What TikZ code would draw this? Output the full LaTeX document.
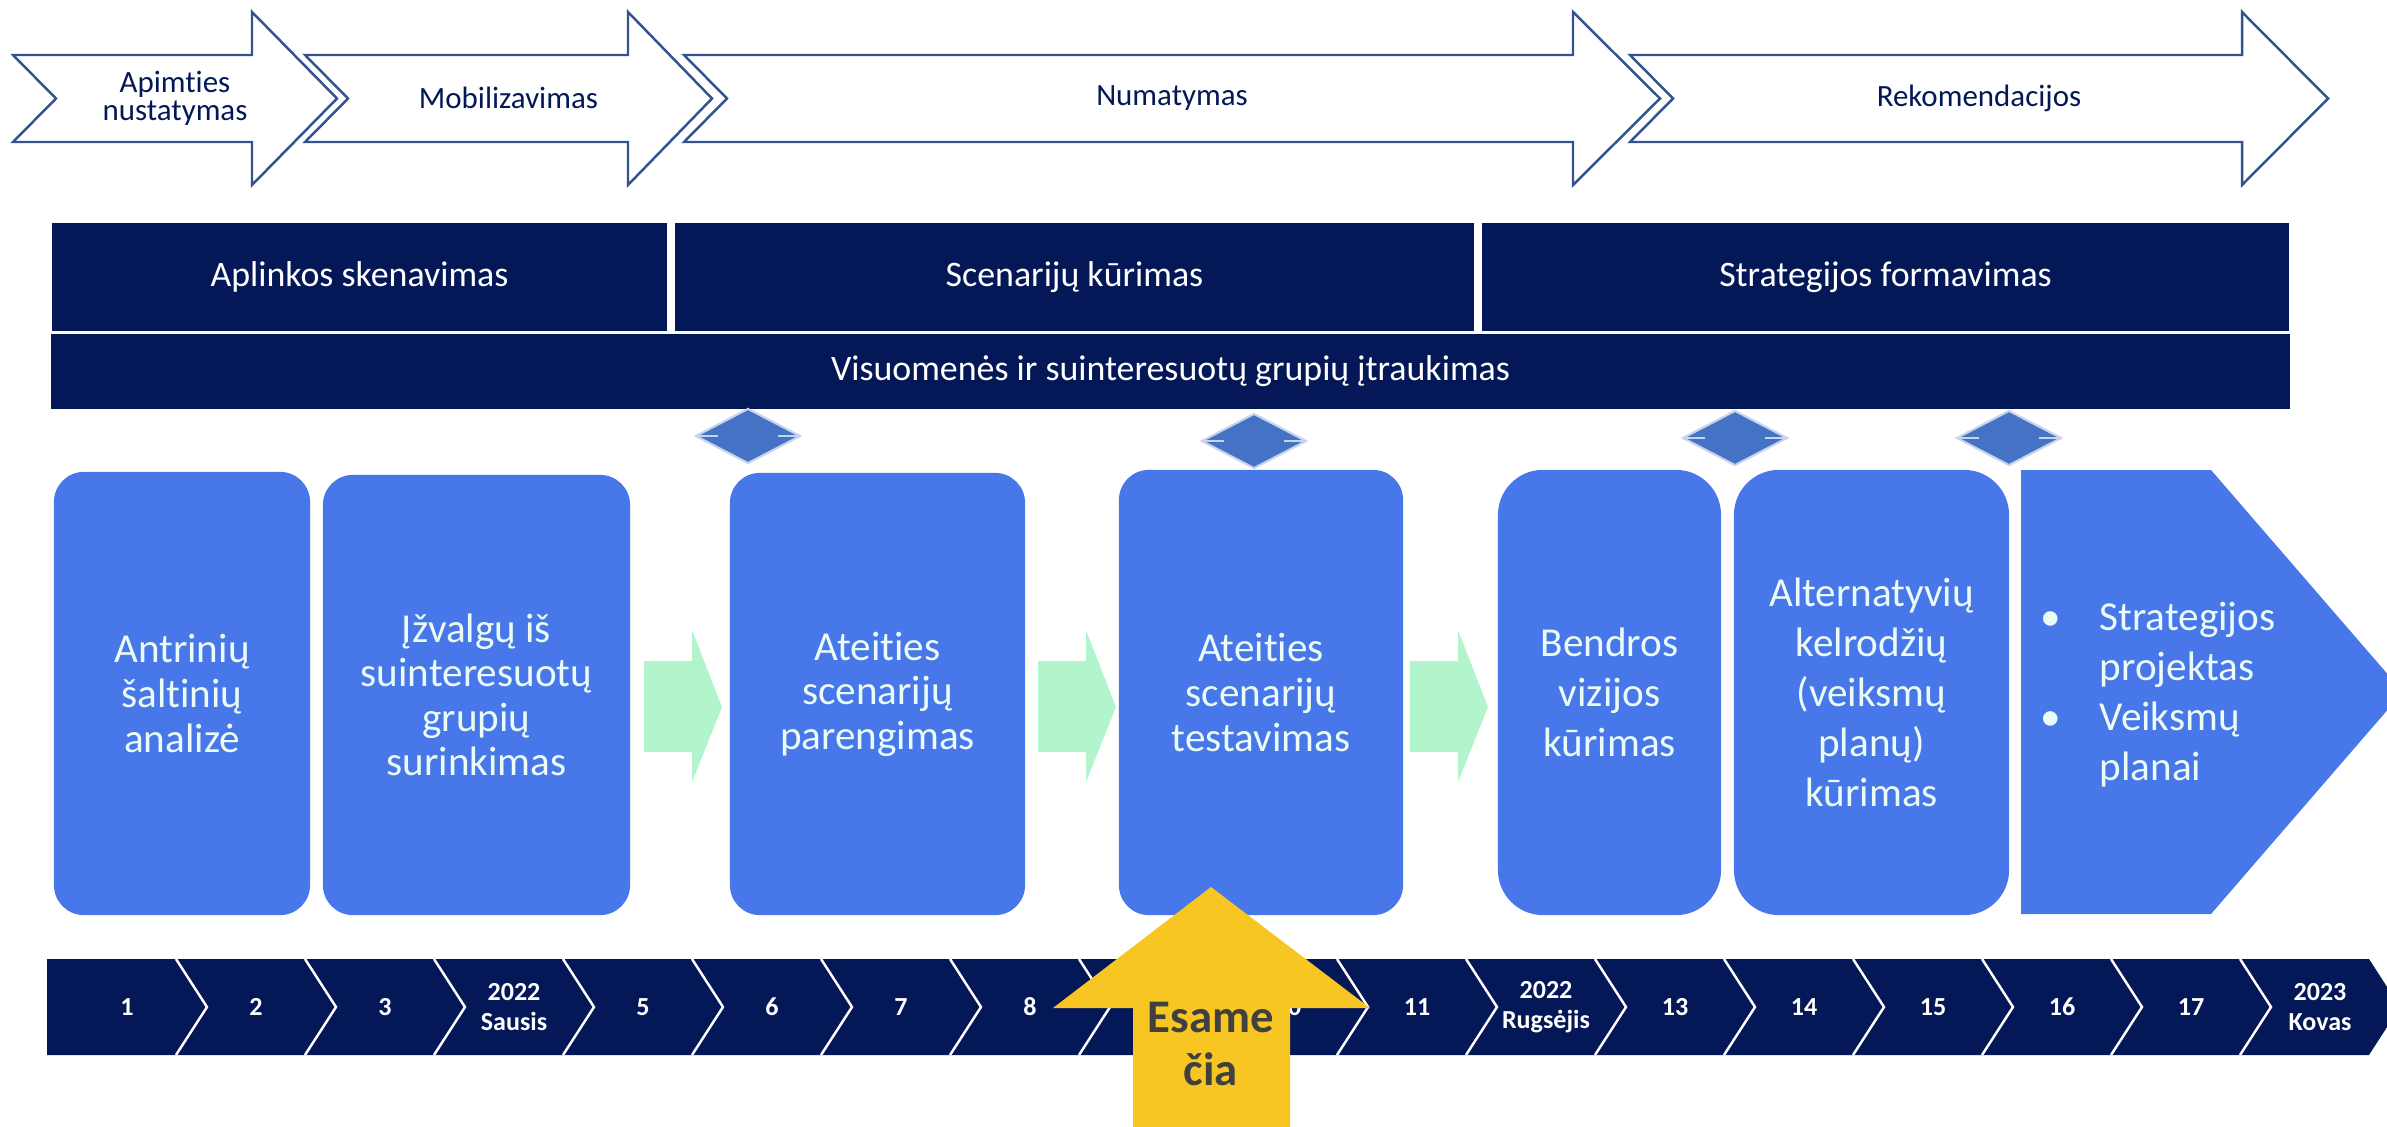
\documentclass[tikz,border=0pt]{standalone}
\usepackage{fontspec}
\setmainfont{Carlito}[RawFeature=-liga, RawFeature=-clig, RawFeature=-calt, RawFeature=-dlig]
\usetikzlibrary{shapes.geometric}

\definecolor{navy}{RGB}{4,24,88}
\definecolor{boxblue}{RGB}{72,119,234}
\definecolor{mint}{RGB}{178,245,205}
\definecolor{phaseline}{RGB}{50,82,145}
\definecolor{gemfill}{RGB}{68,114,196}
\definecolor{gemedge}{RGB}{200,212,238}
\definecolor{sun}{RGB}{248,198,35}
\definecolor{boxtext}{RGB}{235,252,246}
\definecolor{darktext}{RGB}{64,64,64}

\tikzset{
  phase/.style={draw=phaseline, line width=0.7pt, fill=white, line join=miter},
  phaselabel/.style={text=navy, align=center, inner sep=0pt, font=\fontsize{8.8}{8}\selectfont},
  band/.style={fill=navy, text=white, inner sep=0pt, font=\fontsize{10.2}{12}\selectfont},
  stepbox/.style={fill=boxblue, rounded corners=0.3cm, text=boxtext, align=center, inner sep=0pt, font=\fontsize{11.7}{12.66}\selectfont},
  widebox/.style={stepbox, rounded corners=0.45cm, font=\fontsize{11.7}{14.2}\selectfont},
  gem/.style={diamond, fill=gemfill, draw=gemedge, line width=0.6pt, minimum width=1.05cm, minimum height=0.55cm, inner sep=0pt},
  tick/.style={text=white, align=center, inner sep=0pt, font=\bfseries\fontsize{7.4}{8.5}\selectfont},
}

% top phase arrow: left x, head base x, tip x, name, label
\newcommand{\phasearrow}[5]{
  \draw[phase] (#1,55) -- (#2,55) -- (#2,12) -- (#3,98.5) -- (#2,185) -- (#2,142) -- (#1,142) -- ({#1+43},98.5) -- cycle;
  \node[phaselabel] (#4) at ({(#1+#3)/2},98) {#5};
}
% light green flow arrow from x
\newcommand{\flow}[1]{
  \fill[mint] (#1,661) -- ++(48,0) -- ++(0,-31) -- ++(30,77) -- ++(-30,75) -- ++(0,-30) -- ++(-48,0) -- cycle;
}

\begin{document}
\begin{tikzpicture}[x=0.01cm, y=-0.01cm]
  \useasboundingbox (0,0) rectangle (2387,1127);
  \clip (0,0) rectangle (2387,1127);

  % phases
  \phasearrow{13}{252}{337}{p1}{Apimties\\nustatymas}
  \phasearrow{305}{628}{712}{p2}{Mobilizavimas}
  \phasearrow{684}{1573}{1660}{p3}{Numatymas}
  \phasearrow{1630}{2242}{2328}{p4}{Rekomendacijos}

  % stages
  \node[band, minimum width=6.15cm, minimum height=1.08cm] (scan) at (359.5,277) {Aplinkos skenavimas};
  \node[band, minimum width=7.99cm, minimum height=1.08cm] (scen) at (1074.5,277) {Scenarijų kūrimas};
  \node[band, minimum width=8.07cm, minimum height=1.08cm] (strat) at (1885.5,277) {Strategijos formavimas};
  \node[band, minimum width=22.37cm, minimum height=0.75cm] (engage) at (1170.5,371.5) {Visuomenės ir suinteresuotų grupių įtraukimas};

  % milestones
  \foreach \gx/\gy [count=\i] in {748/436, 1254/441, 1735/438, 2009/438} {
    \node[gem] (g\i) at (\gx,\gy) {};
    \draw[gemedge, line width=0.8pt] ([xshift=0.04cm]g\i.west) -- ++(20,0);
    \draw[gemedge, line width=0.8pt] ([xshift=-0.04cm]g\i.east) -- ++(-20,0);
  }

  % steps
  \node[stepbox, minimum width=2.56cm, minimum height=4.43cm] (b1) at (182,693.5) {Antrinių\\šaltinių\\analizė};
  \node[stepbox, minimum width=3.07cm, minimum height=4.40cm] (b2) at (476.5,695) {Įžvalgų iš\\suinteresuotų\\grupių\\surinkimas};
  \node[stepbox, minimum width=2.95cm, minimum height=4.42cm] (b3) at (877.5,694) {Ateities\\scenarijų\\parengimas};
  \node[stepbox, minimum width=2.84cm, minimum height=4.45cm] (b4) at (1261,692.5) {Ateities\\scenarijų\\testavimas};
  \node[widebox, minimum width=2.23cm, minimum height=4.45cm] (b5) at (1609.5,692.5) {Bendros\\vizijos\\kūrimas};
  \node[widebox, minimum width=2.75cm, minimum height=4.45cm] (b6) at (1871.5,692.5) {Alternatyvių\\kelrodžių\\(veiksmų\\planų)\\kūrimas};
  \fill[boxblue] (2021,470) -- (2211,470) -- (2403,692) -- (2211,914) -- (2021,914) -- cycle;
  \node[anchor=west, text=boxtext, align=left, inner sep=0pt, font=\fontsize{11.7}{14.2}\selectfont] (plan) at (2040,695)
    {\makebox[0.59cm][l]{•}Strategijos\\\hspace*{0.59cm}projektas\\\makebox[0.59cm][l]{•}Veiksmų\\\hspace*{0.59cm}planai};

  \flow{644}
  \flow{1038}
  \flow{1410}

  % timeline
  \fill[navy] (47,959) -- (2369,959) -- (2400,1007) -- (2369,1055) -- (47,1055) -- cycle;
  \foreach \k in {1,...,17}
    \draw[white, line width=0.7pt] ({47+129*\k},959) -- ({47+129*\k+31},1007) -- ({47+129*\k},1055);
  \foreach \lab [count=\k from 0] in {1,2,3,{2022\\Sausis},5,6,7,8,{},10,11,{2022\\Rugsėjis},13,14,15,16,17,{2023\\Kovas}}
    \node[tick] (t\k) at ({47+129*\k+80},1007) {\lab};

  % we are here
  \fill[sun] (1211,887) -- (1370,1008) -- (1290,1008) -- (1290,1140) -- (1133,1140) -- (1133,1008) -- (1053,1008) -- cycle;
  \node[text=darktext, align=center, inner sep=0pt, font=\bfseries\fontsize{13.3}{14.8}\selectfont] (here) at (1211,1044) {Esame\\čia};
\end{tikzpicture}
\end{document}
